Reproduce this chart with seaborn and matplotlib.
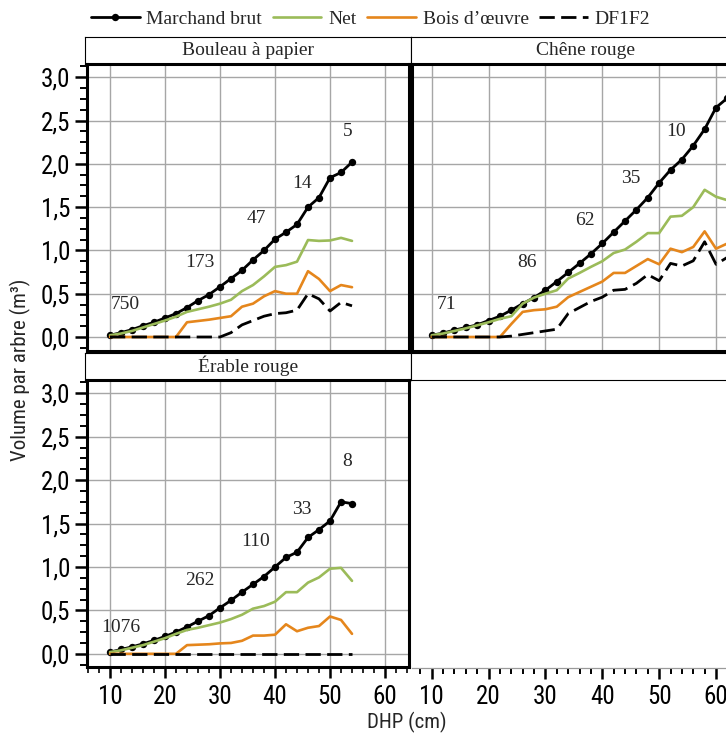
import os
import numpy as np
import pandas as pd
import matplotlib
matplotlib.use("Agg")
import matplotlib.pyplot as plt
import seaborn as sns
from matplotlib import font_manager as fm
from matplotlib.ticker import MultipleLocator, FuncFormatter
from matplotlib.lines import Line2D

# ---------------- data ----------------
dhp_bouleau = [10, 12, 14, 16, 18, 20, 22, 24, 26, 28, 30, 32, 34, 36, 38, 40, 42, 44, 46, 48, 50, 52, 54]
bouleau_brut = [0.02, 0.05, 0.085, 0.13, 0.17, 0.22, 0.27, 0.34, 0.42, 0.49, 0.58, 0.675, 0.77, 0.89, 1.00,
                1.13, 1.21, 1.30, 1.50, 1.61, 1.84, 1.90, 2.02]
bouleau_net = [0.02, 0.04, 0.07, 0.11, 0.15, 0.19, 0.235, 0.29, 0.32, 0.35, 0.385, 0.43, 0.53, 0.60, 0.70,
               0.81, 0.83, 0.87, 1.12, 1.11, 1.115, 1.145, 1.11]
bouleau_bois = [0, 0, 0, 0, 0, 0, 0, 0.17, 0.185, 0.20, 0.22, 0.24, 0.35, 0.385, 0.47, 0.53, 0.50, 0.50,
                0.76, 0.67, 0.53, 0.60, 0.575]
bouleau_df1f2 = [0, 0, 0, 0, 0, 0, 0, 0, 0, 0, 0, 0.05, 0.14, 0.19, 0.24, 0.27, 0.28, 0.31, 0.50, 0.44,
                 0.30, 0.40, 0.36]

dhp_chene = [10, 12, 14, 16, 18, 20, 22, 24, 26, 28, 30, 32, 34, 36, 38, 40, 42, 44, 46, 48, 50, 52, 54,
             56, 58, 60, 62]
chene_brut = [0.02, 0.045, 0.08, 0.11, 0.14, 0.19, 0.24, 0.31, 0.385, 0.455, 0.54, 0.64, 0.745, 0.85, 0.96,
              1.08, 1.21, 1.34, 1.47, 1.61, 1.78, 1.93, 2.05, 2.21, 2.40, 2.65, 2.76]
chene_net = [0.02, 0.04, 0.07, 0.10, 0.135, 0.17, 0.21, 0.24, 0.385, 0.455, 0.50, 0.54, 0.675, 0.74, 0.81,
             0.875, 0.97, 1.01, 1.10, 1.20, 1.20, 1.39, 1.40, 1.50, 1.70, 1.62, 1.58]
chene_bois = [0, 0, 0, 0, 0, 0, 0, 0.15, 0.29, 0.31, 0.32, 0.35, 0.46, 0.52, 0.58, 0.64, 0.74, 0.74, 0.82,
              0.90, 0.84, 1.02, 0.98, 1.04, 1.22, 1.02, 1.08]
chene_df1f2 = [0, 0, 0, 0, 0, 0, 0, 0.01, 0.03, 0.05, 0.07, 0.09, 0.27, 0.34, 0.41, 0.46, 0.54, 0.55, 0.62,
               0.72, 0.65, 0.85, 0.82, 0.88, 1.10, 0.84, 0.92]

dhp_erable = [10, 12, 14, 16, 18, 20, 22, 24, 26, 28, 30, 32, 34, 36, 38, 40, 42, 44, 46, 48, 50, 52, 54]
erable_brut = [0.02, 0.05, 0.08, 0.115, 0.155, 0.20, 0.25, 0.31, 0.375, 0.44, 0.53, 0.615, 0.71, 0.80, 0.89,
               1.00, 1.11, 1.17, 1.34, 1.43, 1.53, 1.75, 1.73]
erable_net = [0.02, 0.04, 0.07, 0.10, 0.14, 0.18, 0.23, 0.275, 0.30, 0.33, 0.36, 0.40, 0.45, 0.52, 0.55,
              0.60, 0.71, 0.71, 0.82, 0.88, 0.98, 0.99, 0.84]
erable_bois = [0, 0, 0, 0, 0, 0, 0, 0.10, 0.105, 0.11, 0.12, 0.125, 0.15, 0.21, 0.21, 0.22, 0.34, 0.26,
               0.30, 0.32, 0.43, 0.39, 0.23]
erable_df1f2 = [0, 0, 0, 0, 0, 0, 0, 0, 0, 0, 0, 0, 0, 0, 0, 0, 0, 0, 0, 0, 0, 0, 0]

# number of trees per class (annotations) and their anchor points
bouleau_n = ["750", "173", "47", "14", "5"]
bouleau_n_x = [12.7, 26.4, 36.7, 44.9, 53.2]
bouleau_n_y = [0.38, 0.86, 1.37, 1.77, 2.37]
chene_n = ["71", "86", "62", "35", "10"]
chene_n_x = [12.6, 26.8, 36.9, 45.0, 53.05]
chene_n_y = [0.37, 0.86, 1.34, 1.83, 2.37]
erable_n = ["1076", "262", "110", "33", "8"]
erable_n_x = [11.9, 26.4, 36.4, 44.9, 53.2]
erable_n_y = [0.30, 0.85, 1.29, 1.66, 2.22]

species = ["Bouleau à papier", "Chêne rouge", "Érable rouge"]
series_labels = ["Marchand brut", "Net", "Bois d\u2019\u0153uvre", "DF1F2"]

# ---------------- fonts ----------------
sns.set_theme(style="ticks")
SERIF = "Liberation Serif"


def find_narrow():
    prefs = ["liberationsansnarrow-regular", "liberationsans-narrow", "arialn.", "robotocondensed-regular",
             "roboto-condensed", "notosans-condensed.", "opensans-condensed", "opensans_condensed-regular",
             "dejavusanscondensed.", "dejavusans-condensed."]
    entries = fm.fontManager.ttflist
    for p in prefs:
        for f in entries:
            if p in os.path.basename(f.fname).lower() and f.style == "normal":
                return f
    for f in entries:
        if f.stretch in ("condensed", "semi-condensed") and f.style == "normal" and \
                f.weight in (400, "normal", "regular"):
            return f
    return None


nf = find_narrow()
if nf is not None:
    SANS = nf.name
    plt.rcParams['font.stretch'] = nf.stretch
    TICK_SIZE = 18
else:
    SANS = "Liberation Sans"
    TICK_SIZE = 14
plt.rcParams['font.family'] = [SANS, 'DejaVu Sans']
plt.rcParams['font.weight'] = 'normal'

BLACK = "#000000"
GREEN = "#9BBB59"
ORANGE = "#E5861C"
GRID = "#A6A6A6"
styles = {
    "Marchand brut": dict(color=BLACK, lw=2.0, marker="o", ms=5.3, ls="-"),
    "Net": dict(color=GREEN, lw=1.9, marker=None, ls="-"),
    "Bois d\u2019\u0153uvre": dict(color=ORANGE, lw=1.9, marker=None, ls="-"),
    "DF1F2": dict(color=BLACK, lw=2.0, marker=None, ls=(0, (5.5, 2.3))),
}

W, H = 726, 734
fig = plt.figure(figsize=(W / 100, H / 100), dpi=100)


def box(x0, y0, x1, y1):
    return [x0 / W, 1 - y1 / H, (x1 - x0) / W, (y1 - y0) / H]


def long_df(dhp, brut, net, bois, df):
    rows = []
    for lab, vals in zip(series_labels, [brut, net, bois, df]):
        for x, v in zip(dhp, vals):
            rows.append((lab, x, v))
    return pd.DataFrame(rows, columns=["serie", "DHP", "Volume"])


data = {
    "Bouleau à papier": long_df(dhp_bouleau, bouleau_brut, bouleau_net, bouleau_bois, bouleau_df1f2),
    "Chêne rouge": long_df(dhp_chene, chene_brut, chene_net, chene_bois, chene_df1f2),
    "Érable rouge": long_df(dhp_erable, erable_brut, erable_net, erable_bois, erable_df1f2),
}
annots = {
    "Bouleau à papier": (bouleau_n, bouleau_n_x, bouleau_n_y),
    "Chêne rouge": (chene_n, chene_n_x, chene_n_y),
    "Érable rouge": (erable_n, erable_n_x, erable_n_y),
}

LEFT = (86.5, 409.0)
RIGHT = (411.5, 740.8)
TOP = (63.5, 350.5)
BOT = (380.0, 666.5)
XL_LEFT = (5.73, 64.36)
XL_RIGHT = (6.45, 64.36)
YL_TOP = (-0.156, 3.159)
YL_BOT = (-0.146, 3.153)

layout = {
    "Bouleau à papier": (LEFT, TOP, XL_LEFT, YL_TOP, True, False),
    "Chêne rouge": (RIGHT, TOP, XL_RIGHT, YL_TOP, False, False),
    "Érable rouge": (LEFT, BOT, XL_LEFT, YL_BOT, True, True),
}

comma = FuncFormatter(lambda v, p: f"{v:.1f}".replace(".", ","))


def strip(x0, x1, y0, y1, title):
    s = fig.add_axes(box(x0, y0, x1, y1))
    s.set_facecolor("white")
    s.set_xticks([]); s.set_yticks([])
    for sp in s.spines.values():
        sp.set_color("black"); sp.set_linewidth(0.8)
    if title:
        s.text(0.5, 0.5, title, ha="center", va="center", fontsize=14,
               family=SERIF, stretch="normal", transform=s.transAxes)
    return s


# strips
strip(84.5, 410.8, 36.7, TOP[0], "Bouleau à papier")
strip(410.8, 760, 36.7, TOP[0], "Chêne rouge")
strip(84.5, 410.8, 352.5, BOT[0], "Érable rouge")
strip(410.8, 760, 352.5, BOT[0], "")

for sp_name in species:
    (x0, x1), (y0, y1), xl, yl, show_y, show_x = layout[sp_name]
    ax = fig.add_axes(box(x0, y0, x1, y1))
    ax.set_facecolor("white")
    df = data[sp_name]
    for lab in series_labels:
        st = styles[lab]
        sub = df[df["serie"] == lab]
        kw = dict(color=st["color"], linewidth=st["lw"], linestyle=st["ls"])
        if st["marker"]:
            kw.update(marker=st["marker"], markersize=st["ms"], markeredgewidth=0)
        sns.lineplot(data=sub, x="DHP", y="Volume", ax=ax, legend=False, **kw)
    labs, xs, ys = annots[sp_name]
    for t, x, y in zip(labs, xs, ys):
        ax.text(x, y, t, ha="center", va="center", fontsize=14, family=SERIF, stretch="normal")
    ax.set_xlim(*xl); ax.set_ylim(*yl)
    ax.set_xlabel(""); ax.set_ylabel("")
    ax.xaxis.set_major_locator(MultipleLocator(10))
    ax.xaxis.set_minor_locator(MultipleLocator(2))
    ax.yaxis.set_major_locator(MultipleLocator(0.5))
    ax.yaxis.set_minor_locator(MultipleLocator(0.125))
    ax.yaxis.set_major_formatter(comma)
    ax.grid(True, which="major", color=GRID, linewidth=1.0)
    ax.set_axisbelow(True)
    for sp in ax.spines.values():
        sp.set_visible(True); sp.set_color("black"); sp.set_linewidth(2.2)
    ax.tick_params(axis="both", which="major", color="black", labelcolor="black",
                   labelsize=TICK_SIZE, direction="out")
    ax.tick_params(axis="x", which="major", length=7.6, width=1.8, pad=6)
    ax.tick_params(axis="x", which="minor", length=4.0, width=1.4)
    ax.tick_params(axis="y", which="major", length=8.6, width=1.8, pad=3)
    ax.tick_params(axis="y", which="minor", length=4.7, width=1.4, color="black")
    ax.tick_params(axis="x", which="both", bottom=show_x, labelbottom=show_x, top=False)
    ax.tick_params(axis="y", which="both", left=show_y, labelleft=show_y, right=False)

# empty bottom-right panel: only its x axis
ae = fig.add_axes(box(RIGHT[0], BOT[0], RIGHT[1], BOT[1] + 1.2))
ae.set_facecolor("none")
ae.set_xlim(*XL_RIGHT); ae.set_ylim(0, 1)
for k in ["top", "left", "right"]:
    ae.spines[k].set_visible(False)
ae.spines["bottom"].set_color("#9A9A9A"); ae.spines["bottom"].set_linewidth(0.9)
ae.xaxis.set_major_locator(MultipleLocator(10))
ae.xaxis.set_minor_locator(MultipleLocator(2))
ae.set_yticks([])
ae.tick_params(axis="x", which="major", length=7.6, width=1.8, pad=5.2, labelsize=TICK_SIZE,
               color="black", labelcolor="black", bottom=True)
ae.tick_params(axis="x", which="minor", length=4.0, width=1.4, color="black", bottom=True)

# axis titles
fig.text(20 / W, 1 - 370 / H, "Volume par arbre (m³)", rotation=90, ha="center", va="center",
         fontsize=15, family=[SANS, "DejaVu Sans"])
fig.text(407 / W, 1 - 722 / H, "DHP (cm)", ha="center", va="center", fontsize=15,
         family=[SANS, "DejaVu Sans"])

# legend
handles = []
for lab in series_labels:
    st = styles[lab]
    handles.append(Line2D([], [], color=st["color"], lw=st["lw"], ls=st["ls"],
                          marker=st["marker"] if st["marker"] else None,
                          ms=st.get("ms", 0), mew=0))
fig.legend(handles, series_labels, loc="center left", bbox_to_anchor=(91 / W, 1 - 19 / H),
           ncol=4, frameon=False, prop={"family": SERIF, "size": 14, "stretch": "normal"},
           handlelength=2.5, handletextpad=0.35, columnspacing=0.55, borderaxespad=0, borderpad=0)

fig.savefig("out.png", dpi=100)
